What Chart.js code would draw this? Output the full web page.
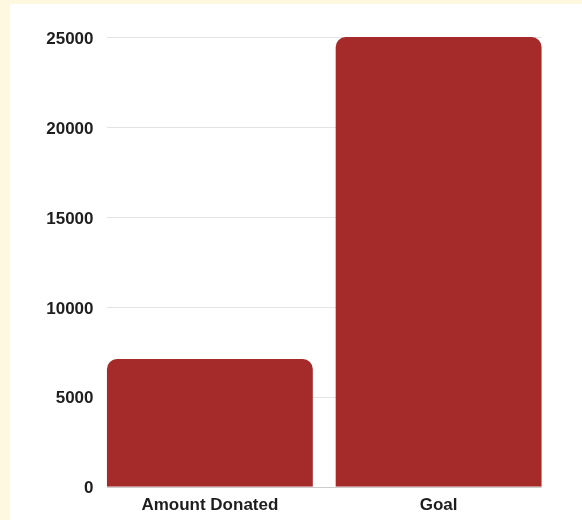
<!DOCTYPE html>
<html>
<head>
<meta charset="utf-8">
<script src="https://cdn.jsdelivr.net/npm/chart.js@4"></script>
<style>
  html, body { margin: 0; padding: 0; }
  body { width: 582px; height: 520px; background: #fff8e1; position: relative; overflow: hidden; }
  #box { position: absolute; left: 10px; top: 4px; width: 572px; height: 516px; background: #ffffff; }
</style>
</head>
<body>
<div id="box"><canvas id="myChart"></canvas></div>
<script>
// data
var categories = ['Amount Donated', 'Goal'];
var amounts = [7100, 25000];
var yTicks = [0, 5000, 10000, 15000, 20000, 25000];

var barColor = '#a52a2a';
var textColor = '#1e1e1e';

// grid lines only between the outer bar edges, like the original
var shortGrid = {
  id: 'shortGrid',
  beforeDatasetsDraw: function(chart) {
    var bars = chart.getDatasetMeta(0).data;
    if (!bars.length) return;
    var first = bars[0], last = bars[bars.length - 1];
    var left = first.x - first.width / 2;
    var right = last.x + last.width / 2;
    var y = chart.scales.y;
    var ctx = chart.ctx;
    ctx.save();
    ctx.lineWidth = 1;
    yTicks.forEach(function(v) {
      var py = Math.round(y.getPixelForValue(v)) + 0.5;
      ctx.strokeStyle = v === 0 ? '#cccccc' : '#e3e3e3';
      ctx.beginPath();
      ctx.moveTo(left, py);
      ctx.lineTo(right, py);
      ctx.stroke();
    });
    ctx.restore();
  }
};

new Chart('myChart', {
  type: 'bar',
  data: {
    labels: categories,
    datasets: [{
      data: amounts,
      backgroundColor: barColor,
      borderRadius: 10,
      barPercentage: 0.9,
      categoryPercentage: 1.0
    }]
  },
  options: {
    responsive: true,
    maintainAspectRatio: false,
    animation: false,
    layout: { padding: { top: 33, right: 29, bottom: 0, left: 0 } },
    plugins: {
      legend: { display: false },
      tooltip: { enabled: false }
    },
    scales: {
      x: {
        afterFit: function(s) { s.height = 33.3; },
        grid: { display: false, drawTicks: false },
        border: { display: false },
        ticks: {
          color: textColor,
          padding: 8,
          font: { family: '"Liberation Sans", Arial, sans-serif', size: 17, weight: 'bold' }
        }
      },
      y: {
        min: 0,
        max: 25000,
        afterFit: function(s) { s.width = 85.5; },
        grid: { display: false, drawTicks: false },
        border: { display: false },
        ticks: {
          stepSize: 5000,
          color: textColor,
          padding: 2,
          labelOffset: 2,
          font: { family: '"Liberation Sans", Arial, sans-serif', size: 17, weight: 'bold' },
          callback: function(v) { return String(v); }
        }
      }
    }
  },
  plugins: [shortGrid]
});
</script>
</body>
</html>
